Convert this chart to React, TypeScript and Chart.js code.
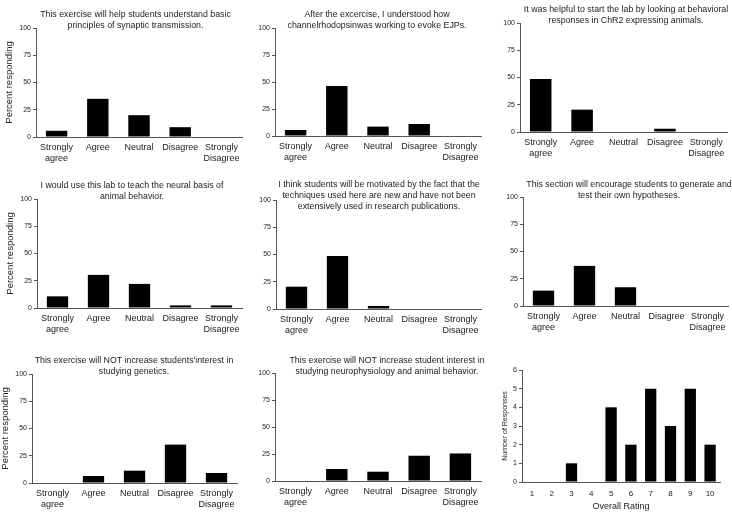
import React, { useEffect, useRef } from "react";
import { Chart, registerables } from "chart.js";

Chart.register(...registerables);

// ---------- data ----------
const likertCategories = [["Strongly", "agree"], ["Agree"], ["Neutral"], ["Disagree"], ["Strongly", "Disagree"]];

const q1Values = [5.7, 35, 20, 9, 0];
const q2Values = [5.6, 46.4, 8.7, 11.1, 0];
const q3Values = [48.6, 20.5, 0, 3, 0];
const q4Values = [10.7, 30.4, 22.1, 2.4, 2.4];
const q5Values = [20.5, 48.6, 2.8, 0, 0];
const q6Values = [14.1, 36.8, 17.2, 0, 0];
const q7Values = [0, 6.4, 11.3, 35.2, 9.2];
const q8Values = [0, 11.1, 8.6, 23.4, 25.5];

const q1Title = ["This exercise will help students understand basic", "principles of synaptic transmission."];
const q2Title = ["After the excercise, I understood how", "channelrhodopsinwas working to evoke EJPs."];
const q3Title = ["It was helpful to start the lab by looking at behavioral", "responses in ChR2 expressing animals."];
const q4Title = ["I would use this lab to teach the neural basis of", "animal behavior."];
const q5Title = [
  "I think students will be motivated by the fact that the",
  "techniques used here are new and have not been",
  "extensively used in research publications.",
];
const q6Title = ["This section will encourage students to generate and", "test their own hypotheses."];
const q7Title = ["This exercise will NOT increase students'interest in", "studying genetics."];
const q8Title = ["This exercise will NOT increase student interest in", "studying neurophysiology and animal behavior."];

const percentAxisTitle = "Percent responding";
const percentMax = 100;
const percentStep = 25;

const ratingCategories = ["1", "2", "3", "4", "5", "6", "7", "8", "9", "10"];
const ratingCounts = [0, 0, 1, 0, 4, 2, 5, 3, 5, 2];
const ratingMax = 6;
const ratingStep = 1;
const ratingXTitle = "Overall Rating";
const ratingYTitle = "Number of Responses";

// ---------- layout (page coordinates) ----------
const PAGE_W = 732;
const PAGE_H = 519;
const FONT = '"Liberation Sans", Arial, Helvetica, sans-serif';
const TEXT = "#222";
const AXIS = "#555";

type Panel = {
  values: number[];
  labels: any[];
  title?: string[];
  yTitle?: string;
  l: number; t: number; r: number; b: number;
  tcx?: number; ty?: number;
  kind: "likert" | "rating";
};

const panels: Panel[] = [
  { values: q1Values, labels: likertCategories, title: q1Title, yTitle: percentAxisTitle, l: 36, t: 28, r: 242, b: 137, tcx: 135.5, ty: 15, kind: "likert" },
  { values: q2Values, labels: likertCategories, title: q2Title, l: 275, t: 28, r: 481, b: 136, tcx: 377, ty: 15, kind: "likert" },
  { values: q3Values, labels: likertCategories, title: q3Title, l: 520, t: 23, r: 727, b: 132, tcx: 626, ty: 10, kind: "likert" },
  { values: q4Values, labels: likertCategories, title: q4Title, yTitle: percentAxisTitle, l: 37, t: 199, r: 242, b: 308, tcx: 132, ty: 186, kind: "likert" },
  { values: q5Values, labels: likertCategories, title: q5Title, l: 276, t: 200, r: 481, b: 309, tcx: 379, ty: 185, kind: "likert" },
  { values: q6Values, labels: likertCategories, title: q6Title, l: 523, t: 197, r: 728, b: 306, tcx: 629, ty: 185, kind: "likert" },
  { values: q7Values, labels: likertCategories, title: q7Title, yTitle: percentAxisTitle, l: 32, t: 374, r: 237, b: 483, tcx: 134, ty: 361, kind: "likert" },
  { values: q8Values, labels: likertCategories, title: q8Title, l: 275, t: 373, r: 481, b: 481, tcx: 387, ty: 361, kind: "likert" },
  { values: ratingCounts, labels: ratingCategories, yTitle: ratingYTitle, l: 522, t: 370, r: 720, b: 482, kind: "rating" },
];

function makeTitlePlugin(p: Panel, idx: number) {
  return {
    id: "panelTitle" + idx,
    afterDraw(chart: any) {
      if (!p.title) return;
      const ctx = chart.ctx;
      ctx.save();
      ctx.font = `8.8px ${FONT}`;
      ctx.fillStyle = TEXT;
      ctx.textAlign = "center";
      ctx.textBaseline = "middle";
      p.title.forEach((line, i) => ctx.fillText(line, p.tcx as number, (p.ty as number) + i * 10.7));
      ctx.restore();
    },
  };
}

function makeConfig(p: Panel, idx: number): any {
  const isRating = p.kind === "rating";
  const yW = isRating ? 21 : 32;
  const xH = 30;
  return {
    type: "bar",
    data: {
      labels: p.labels,
      datasets: [
        {
          data: p.values,
          backgroundColor: "#000",
          borderWidth: 0,
          barPercentage: isRating ? 0.57 : 0.52,
          categoryPercentage: 1,
        },
      ],
    },
    options: {
      animation: false,
      responsive: false,
      events: [],
      layout: {
        padding: { left: p.l - yW, top: p.t, right: PAGE_W - p.r, bottom: PAGE_H - p.b - xH },
      },
      plugins: {
        legend: { display: false },
        tooltip: { enabled: false },
        title: { display: false },
      },
      scales: {
        x: {
          grid: { display: false, drawTicks: false },
          border: { display: true, color: AXIS, width: 1 },
          ticks: {
            color: TEXT,
            font: { size: isRating ? 8 : 9, family: FONT },
            padding: isRating ? 7 : 5,
            maxRotation: 0,
            autoSkip: false,
          },
          title: isRating
            ? { display: true, text: ratingXTitle, color: TEXT, font: { size: 9, family: FONT }, padding: { top: 0, bottom: 0 } }
            : { display: false },
          afterFit: (s: any) => {
            s.height = xH;
          },
        },
        y: {
          min: 0,
          max: isRating ? ratingMax : percentMax,
          grid: { display: true, drawOnChartArea: false, drawTicks: true, tickLength: 3, color: AXIS },
          border: { display: true, color: AXIS, width: 1 },
          ticks: {
            stepSize: isRating ? ratingStep : percentStep,
            color: TEXT,
            font: { size: 7, family: FONT },
            padding: 2,
          },
          title: p.yTitle
            ? {
                display: true,
                text: p.yTitle,
                color: TEXT,
                font: { size: isRating ? 7 : 9.5, family: FONT },
                padding: { top: 0, bottom: 0 },
              }
            : { display: false },
          afterFit: (s: any) => {
            s.width = yW;
          },
        },
      },
    },
    plugins: [makeTitlePlugin(p, idx)],
  };
}

function PanelCanvas({ panel, idx }: { panel: Panel; idx: number }) {
  const ref = useRef<HTMLCanvasElement | null>(null);
  useEffect(() => {
    if (!ref.current) return;
    const chart = new Chart(ref.current, makeConfig(panel, idx));
    return () => chart.destroy();
  }, [panel, idx]);
  return (
    <canvas
      ref={ref}
      width={PAGE_W}
      height={PAGE_H}
      style={{ position: "absolute", left: 0, top: 0, width: PAGE_W, height: PAGE_H }}
    />
  );
}

export default function App() {
  Chart.defaults.font.family = FONT;
  Chart.defaults.color = TEXT;
  return (
    <div
      style={{
        position: "fixed",
        left: 0,
        top: 0,
        width: PAGE_W,
        height: PAGE_H,
        background: "#fff",
        overflow: "hidden",
      }}
    >
      {panels.map((p, i) => (
        <PanelCanvas key={i} panel={p} idx={i} />
      ))}
    </div>
  );
}
